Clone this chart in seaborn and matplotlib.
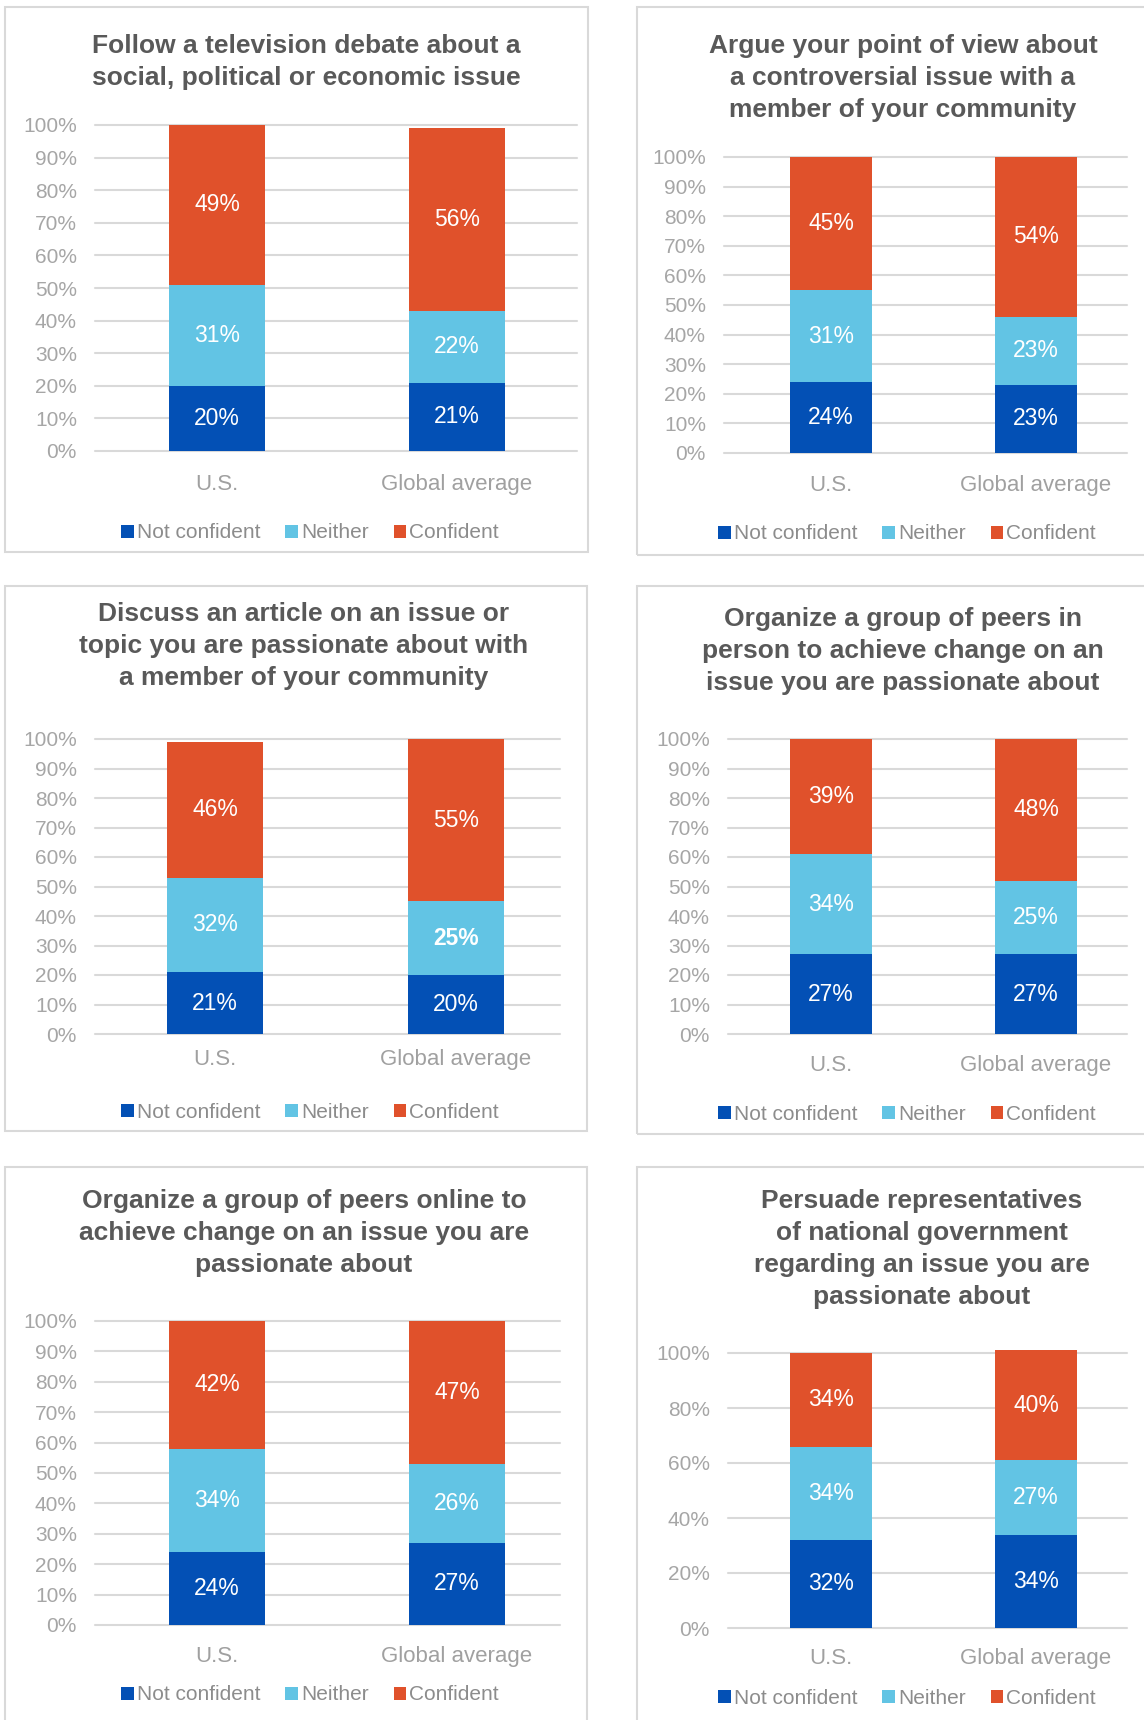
import numpy as np
import matplotlib
matplotlib.use("Agg")
import matplotlib.pyplot as plt
from matplotlib.patches import Rectangle, Patch
from matplotlib.ticker import PercentFormatter
import seaborn as sns

sns.set_style("white")
plt.rcParams['font.family'] = ['Liberation Sans', 'DejaVu Sans']

W, H = 1144, 1720

titles = [
    "Follow a television debate about a\nsocial, political or economic issue",
    "Argue your point of view about\na controversial issue with a\nmember of your community",
    "Discuss an article on an issue or\ntopic you are passionate about with\na member of your community",
    "Organize a group of peers in\nperson to achieve change on an\nissue you are passionate about",
    "Organize a group of peers online to\nachieve change on an issue you are\npassionate about",
    "Persuade representatives\nof national government\nregarding an issue you are\npassionate about",
]
countries = ["U.S.", "Global average"]
series = ["Not confident", "Neither", "Confident"]
not_confident = [[20, 21], [24, 23], [21, 20], [27, 27], [24, 27], [32, 34]]
neither = [[31, 22], [31, 23], [32, 25], [34, 25], [34, 26], [34, 27]]
confident = [[49, 56], [45, 54], [46, 55], [39, 48], [42, 47], [34, 40]]
tick_steps = [10, 10, 10, 10, 10, 20]

colors = ["#0350B5", "#62C4E4", "#E0512B"]

# layout in pixels: border box, grid box (left, right, y100, y0), bar centers, title centre, legend y
layout = [
    dict(box=(5, 7, 588, 552), grid=(95, 577, 125, 451), c=(217, 457), tx=306, ty=62, cy=483, ly=533, lx=310),
    dict(box=(637, 7, 1150, 555), grid=(724, 1127, 157, 453), c=(831, 1036), tx=903, ty=78, cy=484, ly=534, lx=907),
    dict(box=(5, 586, 587, 1131), grid=(95, 560, 739, 1034), c=(215, 456), tx=304, ty=646, cy=1058, ly=1112, lx=310),
    dict(box=(637, 586, 1150, 1134), grid=(728, 1127, 739, 1034), c=(831, 1036), tx=903, ty=651, cy=1064, ly=1114, lx=907),
    dict(box=(5, 1167, 587, 1730), grid=(95, 560, 1321, 1625), c=(217, 457), tx=304, ty=1233, cy=1655, ly=1695, lx=310),
    dict(box=(637, 1167, 1150, 1730), grid=(728, 1127, 1353, 1628), c=(831, 1036), tx=922, ty=1249, cy=1657, ly=1698, lx=907),
]

fig = plt.figure(figsize=(W / 100, H / 100), dpi=100)

for k, g in enumerate(layout):
    x0, y0, x1, y1 = g["box"]
    fig.add_artist(Rectangle((x0 / W, 1 - y1 / H), (x1 - x0) / W, (y1 - y0) / H,
                             transform=fig.transFigure, fill=False,
                             edgecolor="#D9D9D9", linewidth=1.5))

    l, r, t, b = g["grid"]
    ax = fig.add_axes([l / W, 1 - b / H, (r - l) / W, (b - t) / H])

    nc = np.array(not_confident[k])
    ne = np.array(neither[k])
    co = np.array(confident[k])
    stacks = [nc, nc + ne, nc + ne + co]

    # draw cumulative totals, tallest first
    for s in [2, 1, 0]:
        sns.barplot(x=countries, y=stacks[s], color=colors[s], width=0.4,
                    saturation=1, linewidth=0, ax=ax, zorder=2)
    for p in ax.patches:
        p.set_clip_on(False)

    for i in range(2):
        bottoms = [0, nc[i], nc[i] + ne[i]]
        vals = [nc[i], ne[i], co[i]]
        for s in range(3):
            bold = (k == 2 and i == 1 and s == 1)
            ax.text(i, bottoms[s] + vals[s] / 2, f"{vals[s]}%", ha="center", va="center",
                    color="white", fontsize=16.5, fontweight="bold" if bold else "normal",
                    zorder=3)

    c0, c1 = g["c"]
    sp = c1 - c0
    ax.set_xlim((l - c0) / sp, (r - c0) / sp)
    ax.set_ylim(0, 100)
    ax.set_yticks(np.arange(0, 101, tick_steps[k]))
    ax.yaxis.set_major_formatter(PercentFormatter(decimals=0))
    ax.yaxis.grid(True, color="#D9D9D9", linewidth=1.5)
    for gl in ax.get_ygridlines():
        gl.set_clip_on(False)
    ax.set_axisbelow(True)
    ax.tick_params(axis="y", length=0, pad=13, labelsize=15, labelcolor="#A6A6A6")
    ax.tick_params(axis="x", length=0, pad=(g["cy"] - b - 9) * 0.72, labelsize=16, labelcolor="#A0A0A0")
    ax.set_xlabel("")
    ax.set_ylabel("")
    sns.despine(ax=ax, left=True, bottom=True)

    fig.text(g["tx"] / W, 1 - g["ty"] / H, titles[k], ha="center", va="center",
             fontsize=19, fontweight="bold", color="#595959", linespacing=1.42)

    handles = [Patch(facecolor=colors[s], edgecolor="none") for s in range(3)]
    fig.legend(handles, series, loc="center", bbox_to_anchor=(g["lx"] / W, 1 - g["ly"] / H),
               ncol=3, frameon=False, fontsize=15, labelcolor="#8C8C8C",
               handlelength=0.6, handleheight=0.6, handletextpad=0.15, columnspacing=1.2)

fig.savefig("out.png", dpi=100, facecolor="white")
